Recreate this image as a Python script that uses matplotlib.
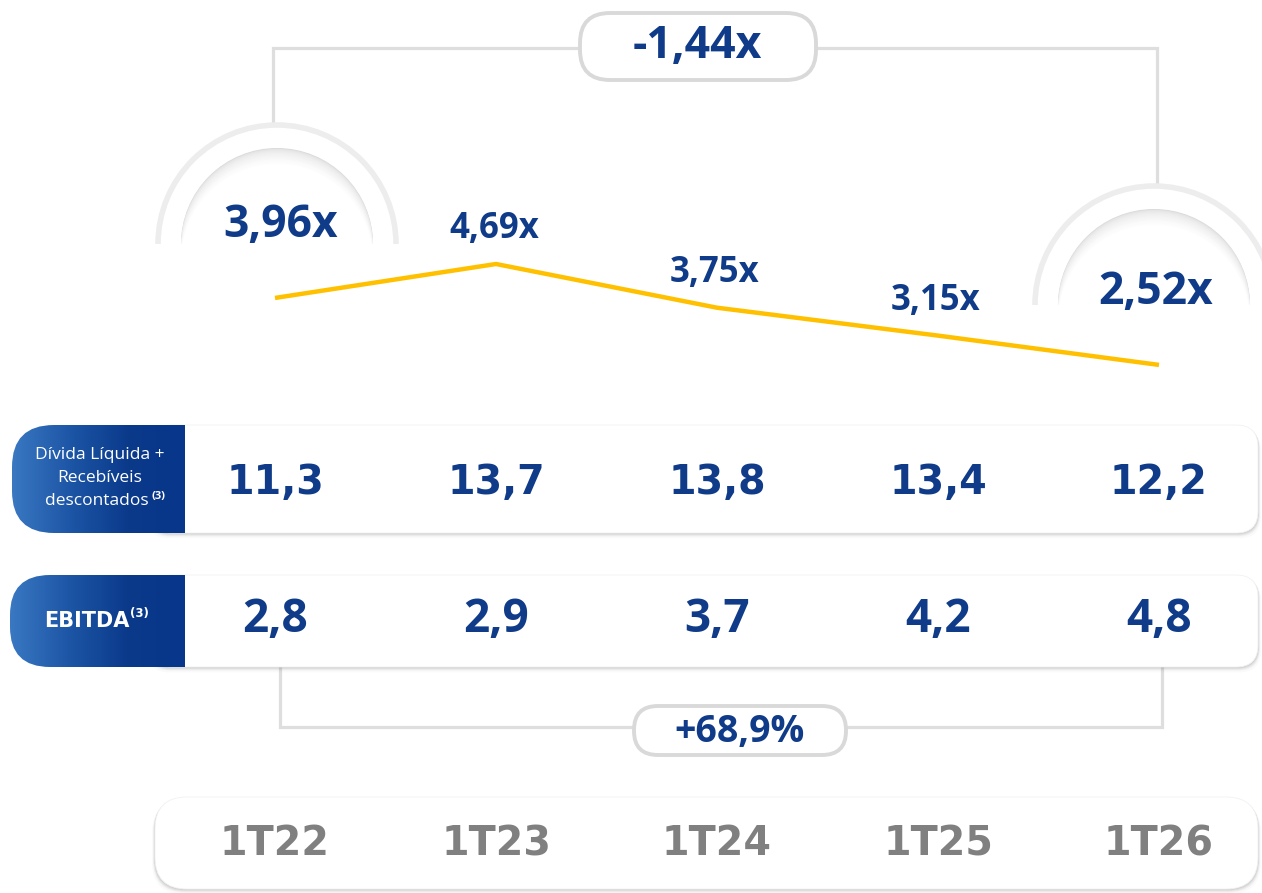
import numpy as np
import matplotlib
matplotlib.use('Agg')
import matplotlib.pyplot as plt
from matplotlib.patches import FancyBboxPatch, Wedge, Arc
from matplotlib.colors import LinearSegmentedColormap, to_rgb

# ---------------- data ----------------
categories = ['1T22', '1T23', '1T24', '1T25', '1T26']
leverage = [3.96, 4.69, 3.75, 3.15, 2.52]
net_debt = [11.3, 13.7, 13.8, 13.4, 12.2]
ebitda = [2.8, 2.9, 3.7, 4.2, 4.8]
leverage_change_label = '-1,44x'
ebitda_growth_label = '+68,9%'
row1_label = ['Dívida Líquida +', 'Recebíveis', 'descontados']
row2_label = 'EBITDA'
note_mark = '(3)'


def br(v, dec):
    return f'{v:.{dec}f}'.replace('.', ',')


NAVY = '#0f3b88'
GREY_TXT = '#808080'
LINE_GREY = '#dedede'
YELLOW = '#FFC000'

W, H = 1262, 893
fig = plt.figure(figsize=(W / 100, H / 100), dpi=100)
fig.patch.set_facecolor('white')

# background / decoration axes in pixel units
bg = fig.add_axes([0, 0, 1, 1])
bg.set_xlim(0, W)
bg.set_ylim(H, 0)
bg.axis('off')

# category axes (x = category index, y = pixel rows)
X0, STEP = 275, 221
ax = fig.add_axes([0, 0, 1, 1], facecolor='none')
ax.set_xlim(-X0 / STEP, (W - X0) / STEP)
ax.set_ylim(H, 0)
ax.axis('off')

# leverage line axes
lax = ax.twinx()
PX_PER_UNIT = 46.5
lax.set_ylim(4.69 - (H - 264) / PX_PER_UNIT, 4.69 + 264 / PX_PER_UNIT)
lax.axis('off')

xs = np.arange(len(categories))
cx_px = [X0 + STEP * i for i in xs]


def mix(c1, c2, t):
    a, b = np.array(to_rgb(c1)), np.array(to_rgb(c2))
    return tuple(a + (b - a) * t)


def shadow_box(x, y, w, h, r, z):
    for k, a in [(6, 0.02), (4, 0.03), (3, 0.04), (2, 0.05), (1, 0.06)]:
        bg.add_patch(FancyBboxPatch((x - k * 0.5, y + k * 0.6), w + k, h + k * 0.3,
                                    boxstyle=f'round,pad=0,rounding_size={r}',
                                    fc='black', ec='none', alpha=a, zorder=z))
    bg.add_patch(FancyBboxPatch((x, y), w, h, boxstyle=f'round,pad=0,rounding_size={r}',
                                fc='white', ec='#f2f2f2', lw=0.6, zorder=z + 0.1))


# ---------------- top bracket ----------------
bg.plot([cx_px[0] - 2, cx_px[0] - 2, cx_px[-1] - 2, cx_px[-1] - 2], [122, 48, 48, 183],
        color=LINE_GREY, lw=2.3, zorder=1, solid_joinstyle='miter')
bg.add_patch(FancyBboxPatch((580, 13), 236, 67, boxstyle='round,pad=0,rounding_size=30',
                            fc='white', ec='#d9d9d9', lw=2.8, zorder=3))
bg.text(697, 47, leverage_change_label, ha='center', va='center', fontsize=32,
        fontweight='bold', family='Open Sans', color=NAVY, zorder=5)


# ---------------- arches (y axis inverted -> angles 180..360 point upward) ----------------
def arch_up(cx, cy):
    bg.add_patch(Arc((cx, cy), 2 * 119, 2 * 119, theta1=180, theta2=360,
                     color='#ededed', lw=4.0, zorder=2))
    base = Wedge((cx, cy), 96, 180, 360, fc='#dadada', ec='none', zorder=2)
    bg.add_patch(base)
    N = 20
    for k in range(1, N + 1):
        t = k / N
        w = Wedge((cx, cy + 16 * t), 96, 180, 360, fc=mix('#dadada', '#ffffff', t ** 0.45),
                  ec='none', zorder=2)
        bg.add_patch(w)
        w.set_clip_path(base)


arch_up(cx_px[0] + 2, 244)
arch_up(cx_px[-1] - 5, 305)

# ---------------- leverage line ----------------
lax.plot(xs, leverage, color=YELLOW, lw=3.2, zorder=4, solid_capstyle='butt')
for i, v in enumerate(leverage):
    end = i in (0, len(leverage) - 1)
    dy = 72 if end else 35
    dx = 6 if i == 0 else (-3 if i == len(leverage) - 1 else -2)
    lax.annotate(br(v, 2) + 'x', (i, v), xytext=(dx * 0.72, dy * 0.72),
                 textcoords='offset points', ha='center', va='center',
                 fontsize=32 if end else 25, fontweight='bold', family='Open Sans',
                 color=NAVY, zorder=6)

# ---------------- rows ----------------
blue_cmap = LinearSegmentedColormap.from_list('b', ['#3a78c2', '#1d56a6', '#0b3a8b', '#07368a'])
grad = np.linspace(0, 1, 256).reshape(1, -1)


def row(y0, h, xl, r):
    shadow_box(150, y0, 1108, h, 22, 1)
    clip = FancyBboxPatch((xl, y0), 260, h, boxstyle=f'round,pad=0,rounding_size={r}',
                          fc='none', ec='none', transform=bg.transData)
    im = bg.imshow(grad, cmap=blue_cmap, extent=(xl, 185, y0 + h, y0), aspect='auto',
                   zorder=3, interpolation='bicubic')
    im.set_clip_path(clip)


row(425, 108, 12, 42)
row(575, 92, 10, 40)
bg.set_xlim(0, W)
bg.set_ylim(H, 0)

# row 1 label
for j, (t, yy) in enumerate(zip(row1_label, [455, 478, 501])):
    if j < 2:
        bg.text(100, yy, t, ha='center', va='center', fontsize=12.5, family='Open Sans',
                color='white', zorder=5)
    else:
        bg.text(149, yy, t, ha='right', va='center', fontsize=12.5, family='Open Sans',
                color='white', zorder=5)
        bg.text(151, yy - 5, note_mark, ha='left', va='center', fontsize=8,
                fontweight='bold', family='Open Sans', color='white', zorder=5)

# row 2 label
bg.text(129, 621, row2_label, ha='right', va='center', fontsize=15, fontweight='bold',
        family='DejaVu Sans', color='white', zorder=5)
bg.text(130, 614, note_mark, ha='left', va='center', fontsize=8.5, fontweight='bold',
        family='DejaVu Sans', color='white', zorder=5)

for i, v in enumerate(net_debt):
    ax.text(i, 483, br(v, 1), ha='center', va='center', fontsize=28.5, fontweight='bold',
            family='DejaVu Sans', color=NAVY, zorder=6)
for i, v in enumerate(ebitda):
    ax.text(i, 620, br(v, 1), ha='center', va='center', fontsize=33, fontweight='bold',
            family='Open Sans', color=NAVY, zorder=6)

# ---------------- bottom bracket ----------------
bg.plot([cx_px[0] + 5, cx_px[0] + 5, cx_px[-1] + 3, cx_px[-1] + 3], [668, 727, 727, 668],
        color=LINE_GREY, lw=2.3, zorder=0.5, solid_joinstyle='miter')
bg.add_patch(FancyBboxPatch((634, 706), 212, 49, boxstyle='round,pad=0,rounding_size=24',
                            fc='white', ec='#d9d9d9', lw=2.8, zorder=3))
bg.text(740, 732, ebitda_growth_label, ha='center', va='center', fontsize=27,
        fontweight='bold', family='Open Sans', color=NAVY, zorder=5)

# ---------------- categories ----------------
shadow_box(155, 797, 1103, 92, 32, 1)
for i, c in enumerate(categories):
    ax.text(i, 844, c, ha='center', va='center', fontsize=28.5, fontweight='bold',
            family='DejaVu Sans', color=GREY_TXT, zorder=6)

fig.savefig('out.png', dpi=100, facecolor='white')
